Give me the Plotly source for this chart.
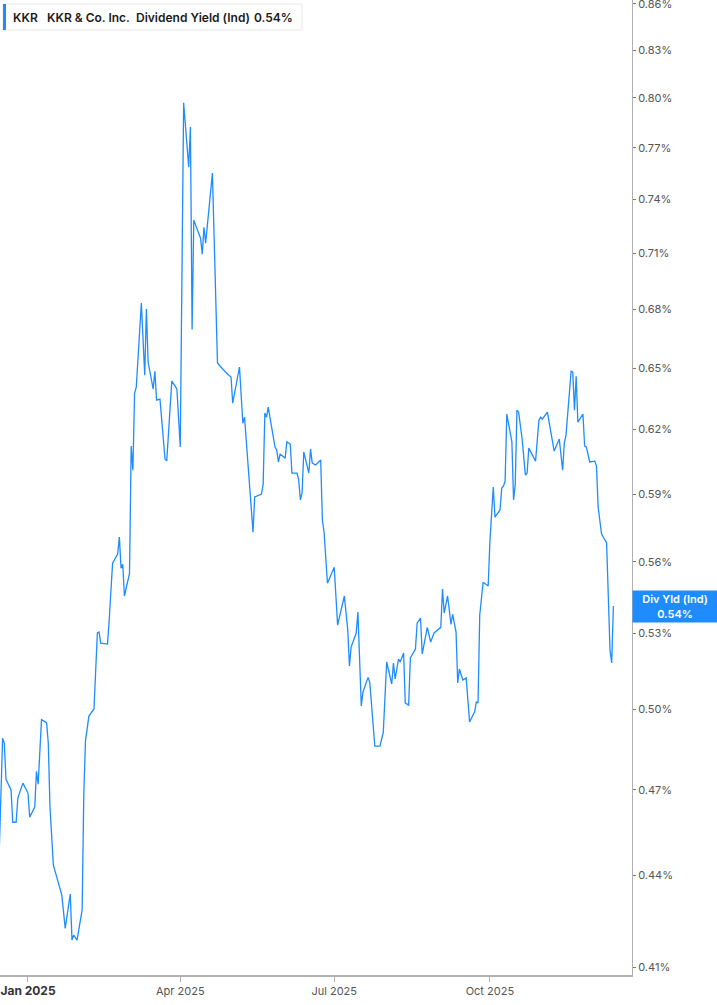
import math
import plotly.graph_objects as go

dates = [
    "2024-12-15", "2024-12-17", "2024-12-18", "2024-12-19", "2024-12-22", "2024-12-23", "2024-12-25",
    "2024-12-26", "2024-12-29", "2025-01-01", "2025-01-02", "2025-01-05", "2025-01-06", "2025-01-07",
    "2025-01-09", "2025-01-12", "2025-01-13", "2025-01-14", "2025-01-16", "2025-01-21", "2025-01-23",
    "2025-01-26", "2025-01-27", "2025-01-28", "2025-01-30", "2025-02-02", "2025-02-03", "2025-02-04",
    "2025-02-06", "2025-02-09", "2025-02-11", "2025-02-12", "2025-02-13", "2025-02-17", "2025-02-18",
    "2025-02-20", "2025-02-23", "2025-02-24", "2025-02-25", "2025-02-26", "2025-02-27", "2025-03-02",
    "2025-03-03", "2025-03-04", "2025-03-05", "2025-03-06", "2025-03-09", "2025-03-11", "2025-03-12",
    "2025-03-13", "2025-03-16", "2025-03-17", "2025-03-18", "2025-03-20", "2025-03-23", "2025-03-24",
    "2025-03-27", "2025-03-30", "2025-04-01", "2025-04-03", "2025-04-06", "2025-04-07", "2025-04-08",
    "2025-04-09", "2025-04-13", "2025-04-14", "2025-04-15", "2025-04-16", "2025-04-20", "2025-04-23",
    "2025-04-25", "2025-04-28", "2025-04-29", "2025-05-01", "2025-05-02", "2025-05-06", "2025-05-08",
    "2025-05-09", "2025-05-14", "2025-05-15", "2025-05-19", "2025-05-20", "2025-05-21", "2025-05-22",
    "2025-05-23", "2025-05-27", "2025-05-28", "2025-05-29", "2025-05-30", "2025-06-02", "2025-06-03",
    "2025-06-05", "2025-06-06", "2025-06-09", "2025-06-10", "2025-06-11", "2025-06-12", "2025-06-13",
    "2025-06-16", "2025-06-17", "2025-06-18", "2025-06-20", "2025-06-23", "2025-06-24", "2025-06-25",
    "2025-06-27", "2025-07-01", "2025-07-03", "2025-07-07", "2025-07-09", "2025-07-10", "2025-07-11",
    "2025-07-14", "2025-07-15", "2025-07-17", "2025-07-18", "2025-07-21", "2025-07-22", "2025-07-25",
    "2025-07-28", "2025-07-30", "2025-08-01", "2025-08-04", "2025-08-05", "2025-08-06", "2025-08-08",
    "2025-08-09", "2025-08-11", "2025-08-12", "2025-08-14", "2025-08-15", "2025-08-18", "2025-08-19",
    "2025-08-21", "2025-08-22", "2025-08-25", "2025-08-27", "2025-08-29", "2025-09-02", "2025-09-03",
    "2025-09-04", "2025-09-06", "2025-09-08", "2025-09-09", "2025-09-11", "2025-09-12", "2025-09-13",
    "2025-09-15", "2025-09-17", "2025-09-19", "2025-09-22", "2025-09-23", "2025-09-24", "2025-09-25",
    "2025-09-27", "2025-09-30", "2025-10-01", "2025-10-03", "2025-10-04", "2025-10-07", "2025-10-08",
    "2025-10-09", "2025-10-10", "2025-10-11", "2025-10-14", "2025-10-15", "2025-10-16", "2025-10-17",
    "2025-10-18", "2025-10-20", "2025-10-22", "2025-10-23", "2025-10-24", "2025-10-28", "2025-10-30",
    "2025-10-31", "2025-11-01", "2025-11-04", "2025-11-06", "2025-11-08", "2025-11-11", "2025-11-13",
    "2025-11-14", "2025-11-15", "2025-11-18", "2025-11-19", "2025-11-20", "2025-11-21", "2025-11-22",
    "2025-11-25", "2025-11-26", "2025-11-27", "2025-11-29", "2025-12-02", "2025-12-03", "2025-12-04",
    "2025-12-06", "2025-12-09", "2025-12-11", "2025-12-12", "2025-12-13",
]

div_yield = [
    0.4480, 0.4890, 0.4871, 0.4738, 0.4699, 0.4584, 0.4584,
    0.4670, 0.4724, 0.4688, 0.4602, 0.4638, 0.4767, 0.4720,
    0.4960, 0.4949, 0.4871, 0.4638, 0.4435, 0.4334, 0.4225,
    0.4338, 0.4187, 0.4203, 0.4187, 0.4285, 0.4688, 0.4882,
    0.4974, 0.5001, 0.5302, 0.5306, 0.5261, 0.5257, 0.5354,
    0.5594, 0.5634, 0.5708, 0.5573, 0.5590, 0.5455, 0.5551,
    0.6122, 0.6009, 0.6376, 0.6405, 0.6833, 0.6464, 0.6802,
    0.6530, 0.6396, 0.6484, 0.6342, 0.6347, 0.6061, 0.6052,
    0.6435, 0.6396, 0.6117, 0.7971, 0.7586, 0.7823, 0.6696,
    0.7283, 0.7182, 0.7095, 0.7243, 0.7155, 0.7551, 0.6525,
    0.6505, 0.6474, 0.6469, 0.6455, 0.6327, 0.6505, 0.6230,
    0.6259, 0.5729, 0.5887, 0.5900, 0.5945, 0.6279, 0.6259,
    0.6308, 0.6117, 0.6103, 0.6047, 0.6084, 0.6065, 0.6141,
    0.6131, 0.5995, 0.5995, 0.5963, 0.5873, 0.5905, 0.6094,
    0.5995, 0.6108, 0.6042, 0.6033, 0.6056, 0.5783, 0.5729,
    0.5509, 0.5577, 0.5334, 0.5455, 0.5314, 0.5169, 0.5245,
    0.5302, 0.5388, 0.5013, 0.5067, 0.5124, 0.5105, 0.4860,
    0.4860, 0.4912, 0.5185, 0.5098, 0.5181, 0.5118, 0.5197,
    0.5185, 0.5221, 0.5024, 0.5016, 0.5201, 0.5237, 0.5342,
    0.5363, 0.5217, 0.5325, 0.5265, 0.5302, 0.5325, 0.5484,
    0.5384, 0.5455, 0.5337, 0.5379, 0.5306, 0.5102, 0.5157,
    0.5114, 0.5122, 0.4951, 0.4990, 0.5028, 0.5024, 0.5375,
    0.5513, 0.5497, 0.5686, 0.5932, 0.5796, 0.5828, 0.5927,
    0.5936, 0.5959, 0.6274, 0.6141, 0.5873, 0.5945, 0.6293,
    0.6283, 0.6159, 0.5986, 0.5995, 0.6112, 0.6051, 0.6244,
    0.6259, 0.6249, 0.6283, 0.6196, 0.6098, 0.6155, 0.6009,
    0.6136, 0.6173, 0.6484, 0.6479, 0.6293, 0.6459, 0.6235,
    0.6274, 0.6122, 0.6117, 0.6047, 0.6051, 0.6028, 0.5841,
    0.5721, 0.5682, 0.5233, 0.5181, 0.5413,
]

y_ticks = [0.41, 0.44, 0.47, 0.50, 0.53, 0.56, 0.59, 0.62, 0.65, 0.68, 0.71, 0.74, 0.77, 0.80, 0.83, 0.86]
x_ticks = ["2025-01-01", "2025-04-01", "2025-07-01", "2025-10-01"]
x_tick_labels = ["<span style='font-size:12px;color:#333333'><b>Jan 2025</b></span>",
                 "Apr 2025", "Jul 2025", "Oct 2025"]

ticker = "KKR"
company = "KKR & Co. Inc."
metric = "Dividend Yield (Ind)"
last_label = "Div Yld (Ind)"

LINE = "#1e8cff"
W, H = 717, 1005
ML, MR, MT, MB = 0, 85, 0, 30
PW, PH = W - ML - MR, H - MT - MB

fig = go.Figure()
fig.add_trace(go.Scatter(x=dates, y=div_yield, mode="lines",
                         line=dict(color=LINE, width=1.3), hoverinfo="skip"))

last_val = div_yield[-1]


def px_x(p):
    return p / PW


def px_y(p):
    return 1 - p / PH


shapes = [
    dict(type="rect", xref="paper", yref="paper", x0=px_x(3), x1=px_x(302), y0=px_y(30), y1=px_y(4),
         line=dict(color="#e8e8e8", width=1), fillcolor="white", layer="above"),
    dict(type="rect", xref="paper", yref="paper", x0=px_x(3), x1=px_x(6), y0=px_y(30), y1=px_y(4),
         line=dict(width=0), fillcolor=LINE, layer="above"),
]

font_fam = "Inter, Roboto, sans-serif"
legend_parts = [(12, ticker), (46, company), (135, metric), (253, f"{last_val:.2f}%")]
annotations = []
for xp, txt in legend_parts:
    annotations.append(dict(x=px_x(xp), y=px_y(17), xref="paper", yref="paper", xanchor="left",
                            yanchor="middle", text=txt, showarrow=False, borderpad=0,
                            font=dict(family=font_fam, size=12, color="#1a1a1a", weight=600)))

# value label box on the right axis (log axis -> annotation y in log10 units)
annotations.append(dict(x=1, y=math.log10(last_val), xref="paper", yref="y", xanchor="left",
                        yanchor="middle", xshift=0, text=f"{last_label}<br>{last_val:.2f}%",
                        showarrow=False, bgcolor=LINE, width=80, height=27, borderpad=2,
                        font=dict(family=font_fam, size=11, color="white", weight=600)))

fig.update_layout(
    width=W, height=H,
    margin=dict(l=ML, r=MR, t=MT, b=MB, autoexpand=False),
    paper_bgcolor="white", plot_bgcolor="white",
    showlegend=False,
    shapes=shapes,
    annotations=annotations,
    font=dict(family=font_fam, size=11, color="#555555"),
    xaxis=dict(
        type="date",
        range=["2024-12-15 11:00", "2025-12-24"],
        tickvals=x_ticks, ticktext=x_tick_labels,
        showgrid=False, zeroline=False, automargin=False,
        showline=True, linecolor="#b0b0b0", linewidth=2,
        ticks="outside", ticklen=5, tickcolor="#b0b0b0", tickwidth=1,
        ticklabeloverflow="allow",
        tickfont=dict(family=font_fam, size=11, color="#555555"),
    ),
    yaxis=dict(
        type="log", side="right",
        range=[math.log10(0.4076), math.log10(0.8626)],
        tickvals=y_ticks, ticktext=[f"{v:.2f}%" for v in y_ticks],
        showgrid=False, zeroline=False, automargin=False,
        showline=True, linecolor="#b0b0b0", linewidth=1,
        ticks="outside", ticklen=3, tickcolor="#777777", tickwidth=1,
        ticklabeloverflow="allow",
        tickfont=dict(family=font_fam, size=11, color="#555555"),
    ),
)

fig.write_html("out.html", config={"displayModeBar": False, "staticPlot": True},
               post_script="document.body.style.margin='0';document.body.style.padding='0';")
